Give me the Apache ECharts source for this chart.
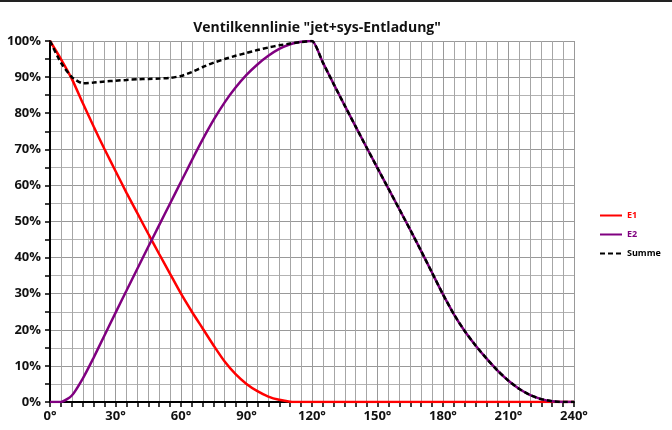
<!DOCTYPE html>
<html>
<head>
<meta charset="utf-8">
<script src="https://cdn.jsdelivr.net/npm/echarts@6/dist/echarts.min.js"></script>
<style>
html,body{margin:0;padding:0;background:#fff;}
#c{width:672px;height:430px;}
</style>
</head>
<body>
<div id="c"></div>
<script>
const titleText = 'Ventilkennlinie "jet+sys-Entladung"';
const seriesNames = ['E1', 'E2', 'Summe'];
const seriesColors = ['#ff0000', '#800080', '#000000'];
const angles = [0,5,10,15,20,25,30,35,40,45,50,55,60,65,70,75,80,85,90,95,100,105,110,115,120,125,130,135,140,145,150,155,160,165,170,175,180,185,190,195,200,205,210,215,220,225,230,235,240];
const e1 =    [100,95,89.5,82.8,76.3,70,64,58,52.3,46.6,41,35.5,30,25,20.3,15.6,11.2,7.7,5,3,1.5,0.6,0.1,0,0,0,0,0,0,0,0,0,0,0,0,0,0,0,0,0,0,0,0,0,0,0,0,0,0];
const e2 =    [0,0,1.8,6.5,12.3,18.5,24.7,30.8,36.9,43,49,55,61,67,72.8,78.2,83,87.1,90.6,93.5,95.9,97.8,99.1,99.8,100,94,88,82.1,76.3,70.5,64.8,59.1,53.4,47.7,41.8,35.8,29.8,24.3,19.6,15.6,12,8.7,5.9,3.6,1.9,0.8,0.2,0,0];
const summe = [100,94,90,88.3,88.5,88.8,89,89.2,89.4,89.5,89.6,89.8,90.3,91.4,92.8,94,95,95.9,96.7,97.5,98.2,98.8,99.3,99.7,100,94,88,82.1,76.3,70.5,64.8,59.1,53.4,47.7,41.8,35.8,29.8,24.3,19.6,15.6,12,8.7,5.9,3.6,1.9,0.8,0.2,0,0];

const pairs = arr => angles.map((a, i) => [a, arr[i]]);
const font = '"Open Sans", "Noto Sans", sans-serif';

const chart = echarts.init(document.getElementById('c'), null, {renderer: 'canvas'});
chart.setOption({
  animation: false,
  backgroundColor: '#fff',
  title: {
    text: titleText, left: 312, top: 16, textAlign: 'center',
    textStyle: {fontFamily: font, fontSize: 14, fontWeight: 'bold', color: '#111'}
  },
  graphic: [{type: 'rect', shape: {x: 0, y: 0, width: 672, height: 2}, style: {fill: '#222'}}],
  legend: {
    orient: 'vertical', left: 594, top: 206, itemWidth: 22, itemHeight: 8, itemGap: 10,
    itemStyle: {opacity: 0},
    data: seriesNames.map((n, i) => ({name: n, textStyle: {color: seriesColors[i]}})),
    textStyle: {fontFamily: font, fontSize: 9, fontWeight: 'bold'}
  },
  grid: {left: 50, right: 98, top: 41, bottom: 28},
  xAxis: {
    type: 'value', min: 0, max: 240, interval: 30,
    axisLine: {show: true, lineStyle: {color: '#000', width: 2}},
    axisTick: {show: true, length: 5, lineStyle: {color: '#000', width: 1.5}},
    minorTick: {show: true, splitNumber: 6, length: 5, lineStyle: {color: '#000', width: 1.5}},
    axisLabel: {formatter: v => v + '°', fontFamily: font, fontSize: 13, fontWeight: 'bold', color: '#111', margin: 8},
    splitLine: {show: true, lineStyle: {color: '#999', width: 1}},
    minorSplitLine: {show: true, lineStyle: {color: '#a6a6a6', width: 1}}
  },
  yAxis: {
    type: 'value', min: 0, max: 100, interval: 10,
    axisLine: {show: true, onZero: false, lineStyle: {color: '#000', width: 2}},
    axisTick: {show: true, length: 5, lineStyle: {color: '#000', width: 1.5}},
    minorTick: {show: true, splitNumber: 2, length: 5, lineStyle: {color: '#000', width: 1.5}},
    axisLabel: {formatter: v => v + '%', fontFamily: font, fontSize: 13, fontWeight: 'bold', color: '#111', margin: 9},
    splitLine: {show: true, lineStyle: {color: '#999', width: 1}},
    minorSplitLine: {show: true, lineStyle: {color: '#b3b3b3', width: 1}}
  },
  series: [
    {name: 'E1', type: 'line', data: pairs(e1), smooth: 0.25, showSymbol: false, symbol: 'none',
     lineStyle: {color: seriesColors[0], width: 2.5}, itemStyle: {color: seriesColors[0]}, z: 2},
    {name: 'E2', type: 'line', data: pairs(e2), smooth: 0.2, showSymbol: false, symbol: 'none',
     lineStyle: {color: seriesColors[1], width: 2.5}, itemStyle: {color: seriesColors[1]}, z: 3},
    {name: 'Summe', type: 'line', data: pairs(summe), smooth: 0.2, showSymbol: false, symbol: 'none',
     lineStyle: {color: seriesColors[2], width: 2.5, type: [5, 3]}, itemStyle: {color: seriesColors[2]}, z: 4}
  ]
});
</script>
</body>
</html>
